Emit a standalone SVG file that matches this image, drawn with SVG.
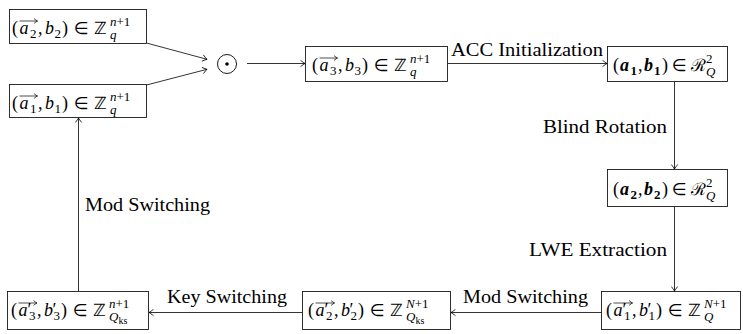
<svg xmlns="http://www.w3.org/2000/svg" width="743" height="334" viewBox="0 0 743 334">
<defs>
<style>
.bx{fill:#fff;stroke:#1a1a1a;stroke-width:0.9}
.ln{fill:none;stroke:#000;stroke-width:0.8}
.ov{fill:none;stroke:#000;stroke-width:0.7}
.m{font-size:18px;fill:#000}
.i{font-style:italic}
.bi{font-style:italic;font-weight:bold}
.b{font-weight:bold}
.s{font-size:13px}
.ss{font-size:10px}
.sym{font-size:17px}
.t{font-size:18px;fill:#000}
</style>
<marker id="ar" viewBox="-6 -4 7 8" refX="0" refY="0" markerWidth="7" markerHeight="8" markerUnits="userSpaceOnUse" orient="auto">
<path d="M-4.5,-3.2 Q-1.5,-0.8 0,0 Q-1.5,0.8 -4.5,3.2" fill="none" stroke="#000" stroke-width="0.8"/>
</marker>
<marker id="ar2" viewBox="-5 -3 6 6" refX="0" refY="0" markerWidth="6" markerHeight="6" markerUnits="userSpaceOnUse" orient="auto">
<path d="M-3.5,-2.4 Q-1.2,-0.6 0,0 Q-1.2,0.6 -3.5,2.4" fill="none" stroke="#000" stroke-width="0.7"/>
</marker>
</defs>

<g id="edges">
<path class="ln" d="M146.5,43 L207,59.3" marker-end="url(#ar)"/>
<path class="ln" d="M146.5,85 L207,69.3" marker-end="url(#ar)"/>
<path class="ln" d="M247,63.5 H305" marker-end="url(#ar)"/>
<path class="ln" d="M447.5,63.5 H607" marker-end="url(#ar)"/>
<path class="ln" d="M674.5,81.5 V169" marker-end="url(#ar)"/>
<path class="ln" d="M674.5,206.5 V291" marker-end="url(#ar)"/>
<path class="ln" d="M601.5,312.5 H451" marker-end="url(#ar)"/>
<path class="ln" d="M302.5,312.5 H149" marker-end="url(#ar)"/>
<path class="ln" d="M78.5,291.5 V118" marker-end="url(#ar)"/>
<text class="t" font-family="Liberation Serif" x="451" y="56" textLength="152" lengthAdjust="spacingAndGlyphs">ACC Initialization</text>
<text class="t" font-family="Liberation Serif" x="543" y="133" textLength="124" lengthAdjust="spacingAndGlyphs">Blind Rotation</text>
<text class="t" font-family="Liberation Serif" x="529" y="256" textLength="138" lengthAdjust="spacingAndGlyphs">LWE Extraction</text>
<text class="t" font-family="Liberation Serif" x="85" y="211" textLength="125" lengthAdjust="spacingAndGlyphs">Mod Switching</text>
<text class="t" font-family="Liberation Serif" x="167" y="303" textLength="120" lengthAdjust="spacingAndGlyphs">Key Switching</text>
<text class="t" font-family="Liberation Serif" x="463" y="303" textLength="125" lengthAdjust="spacingAndGlyphs">Mod Switching</text>
</g>

<g id="n-a2b2">
<rect class="bx" x="9.5" y="9.5" width="137" height="34"/>
<path class="ov" d="M19.5,21 H37.5" marker-end="url(#ar2)"/>
<text class="m" font-family="Liberation Serif"><tspan x="12" y="34">(</tspan><tspan class="i" x="19.5" y="34">a</tspan><tspan class="s" x="30" y="38">2</tspan><tspan x="38" y="34">,</tspan><tspan class="i" x="45" y="34">b</tspan><tspan class="s" x="54.5" y="38">2</tspan><tspan x="62" y="34">)</tspan><tspan class="sym" font-family="DejaVu Sans" x="74" y="34">∈</tspan><tspan class="sym" font-family="DejaVu Sans" x="94" y="34">ℤ</tspan><tspan class="s" x="110" y="26"><tspan class="i">n</tspan>+1</tspan><tspan class="s i" x="110" y="39">q</tspan></text>
</g>

<g id="n-a1b1">
<rect class="bx" x="9.5" y="84.5" width="137" height="33"/>
<path class="ov" d="M19.5,96 H37.5" marker-end="url(#ar2)"/>
<text class="m" font-family="Liberation Serif"><tspan x="12" y="109">(</tspan><tspan class="i" x="19.5" y="109">a</tspan><tspan class="s" x="30" y="113">1</tspan><tspan x="38" y="109">,</tspan><tspan class="i" x="45" y="109">b</tspan><tspan class="s" x="54.5" y="113">1</tspan><tspan x="62" y="109">)</tspan><tspan class="sym" font-family="DejaVu Sans" x="74" y="109">∈</tspan><tspan class="sym" font-family="DejaVu Sans" x="94" y="109">ℤ</tspan><tspan class="s" x="110" y="101"><tspan class="i">n</tspan>+1</tspan><tspan class="s i" x="110" y="114">q</tspan></text>
</g>

<g id="n-odot">
<circle cx="227" cy="64" r="9.5" fill="none" stroke="#000" stroke-width="0.9"/>
<circle cx="227" cy="64" r="1.8" fill="#000"/>
</g>

<g id="n-a3b3">
<rect class="bx" x="305.5" y="46.5" width="142" height="35"/>
<path class="ov" d="M319.5,58 H337.5" marker-end="url(#ar2)"/>
<text class="m" font-family="Liberation Serif"><tspan x="312" y="71">(</tspan><tspan class="i" x="319.5" y="71">a</tspan><tspan class="s" x="330" y="75">3</tspan><tspan x="338" y="71">,</tspan><tspan class="i" x="345" y="71">b</tspan><tspan class="s" x="354.5" y="75">3</tspan><tspan x="362" y="71">)</tspan><tspan class="sym" font-family="DejaVu Sans" x="374" y="71">∈</tspan><tspan class="sym" font-family="DejaVu Sans" x="394" y="71">ℤ</tspan><tspan class="s" x="410" y="63"><tspan class="i">n</tspan>+1</tspan><tspan class="s i" x="410" y="76">q</tspan></text>
</g>

<g id="n-ring1">
<rect class="bx" x="607.5" y="46.5" width="120" height="35"/>
<text class="m" font-family="Liberation Serif"><tspan x="613" y="71">(</tspan><tspan class="bi" x="620" y="71">a</tspan><tspan class="s b" x="630.5" y="75">1</tspan><tspan x="638" y="71">,</tspan><tspan class="bi" x="644" y="71">b</tspan><tspan class="s b" x="654" y="75">1</tspan><tspan x="662" y="71">)</tspan><tspan class="sym" font-family="DejaVu Sans" x="672" y="71">∈</tspan><tspan class="sym" font-family="serif" x="691" y="71">ℛ</tspan><tspan class="s" x="706" y="63">2</tspan><tspan class="s i" x="706" y="76">Q</tspan></text>
</g>

<g id="n-ring2">
<rect class="bx" x="607.5" y="169.5" width="120" height="37"/>
<text class="m" font-family="Liberation Serif"><tspan x="613" y="195">(</tspan><tspan class="bi" x="620" y="195">a</tspan><tspan class="s b" x="630.5" y="199">2</tspan><tspan x="638" y="195">,</tspan><tspan class="bi" x="644" y="195">b</tspan><tspan class="s b" x="654" y="199">2</tspan><tspan x="662" y="195">)</tspan><tspan class="sym" font-family="DejaVu Sans" x="672" y="195">∈</tspan><tspan class="sym" font-family="serif" x="691" y="195">ℛ</tspan><tspan class="s" x="706" y="187">2</tspan><tspan class="s i" x="706" y="200">Q</tspan></text>
</g>

<g id="n-a1p">
<rect class="bx" x="601.5" y="291.5" width="139" height="38"/>
<path class="ov" d="M613.5,303 H632.5" marker-end="url(#ar2)"/>
<text class="m" font-family="Liberation Serif"><tspan x="606" y="316">(</tspan><tspan class="i" x="613.5" y="316">a</tspan><tspan x="622.5" y="316">′</tspan><tspan class="s" x="624" y="320">1</tspan><tspan x="632" y="316">,</tspan><tspan class="i" x="639" y="316">b</tspan><tspan x="647.5" y="316">′</tspan><tspan class="s" x="648.5" y="320">1</tspan><tspan x="656" y="316">)</tspan><tspan class="sym" font-family="DejaVu Sans" x="668" y="316">∈</tspan><tspan class="sym" font-family="DejaVu Sans" x="688" y="316">ℤ</tspan><tspan class="s" x="704" y="308"><tspan class="i">N</tspan>+1</tspan><tspan class="s i" x="704" y="321">Q</tspan></text>
</g>

<g id="n-a2p">
<rect class="bx" x="302.5" y="291.5" width="148" height="38"/>
<path class="ov" d="M315.5,303 H334.5" marker-end="url(#ar2)"/>
<text class="m" font-family="Liberation Serif"><tspan x="308" y="316">(</tspan><tspan class="i" x="315.5" y="316">a</tspan><tspan x="324.5" y="316">′</tspan><tspan class="s" x="326" y="320">2</tspan><tspan x="334" y="316">,</tspan><tspan class="i" x="341" y="316">b</tspan><tspan x="349.5" y="316">′</tspan><tspan class="s" x="350.5" y="320">2</tspan><tspan x="358" y="316">)</tspan><tspan class="sym" font-family="DejaVu Sans" x="370" y="316">∈</tspan><tspan class="sym" font-family="DejaVu Sans" x="390" y="316">ℤ</tspan><tspan class="s" x="406" y="308"><tspan class="i">N</tspan>+1</tspan><tspan class="s i" x="406" y="321">Q</tspan><tspan class="ss" x="415.5" y="324">ks</tspan></text>
</g>

<g id="n-a3p">
<rect class="bx" x="7.5" y="291.5" width="141" height="38"/>
<path class="ov" d="M18.5,303 H37" marker-end="url(#ar2)"/>
<text class="m" font-family="Liberation Serif"><tspan x="11" y="316">(</tspan><tspan class="i" x="18.5" y="316">a</tspan><tspan x="27.5" y="316">′</tspan><tspan class="s" x="29" y="320">3</tspan><tspan x="37" y="316">,</tspan><tspan class="i" x="44" y="316">b</tspan><tspan x="52.5" y="316">′</tspan><tspan class="s" x="53.5" y="320">3</tspan><tspan x="61" y="316">)</tspan><tspan class="sym" font-family="DejaVu Sans" x="73" y="316">∈</tspan><tspan class="sym" font-family="DejaVu Sans" x="93" y="316">ℤ</tspan><tspan class="s" x="109" y="308"><tspan class="i">n</tspan>+1</tspan><tspan class="s i" x="109" y="321">Q</tspan><tspan class="ss" x="118.5" y="324">ks</tspan></text>
</g>
</svg>
